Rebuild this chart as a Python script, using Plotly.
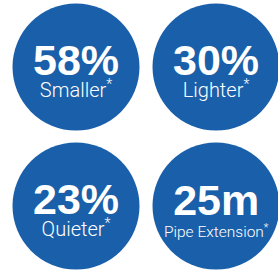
import plotly.graph_objects as go

values = [58, 30, 23, 25]
units = ["%", "%", "%", "m"]
labels = ["Smaller", "Lighter", "Quieter", "Pipe Extension"]
cols = [0, 1, 0, 1]
rows = [0, 0, 1, 1]

BLUE = "#1a5fa9"

fig = go.Figure()
fig.add_trace(go.Scatter(
    x=cols, y=rows, mode="markers",
    marker=dict(size=127, color=BLUE, line=dict(width=0)),
    hoverinfo="skip", showlegend=False,
))

for v, u, lab, c, r in zip(values, units, labels, cols, rows):
    fs = 15.5 if len(lab) > 10 else 20
    text = (
        f"<span style='font-family:Liberation Sans,Arial,sans-serif;font-weight:bold;font-size:43px'>{v}{u}</span>"
        f"<br><span style='font-family:Roboto,Liberation Sans,sans-serif;font-weight:300;font-size:{fs}px'>{lab}<sup>*</sup></span>"
    )
    fig.add_annotation(
        x=c, y=r, xref="x", yref="y", showarrow=False,
        text=text,
        font=dict(family="Liberation Sans, Arial, sans-serif", size=17, color="white"),
        xanchor="center", yanchor="middle", yshift=-2,
    )

fig.update_xaxes(range=[-76 / 140, (278 - 76) / 140], visible=False, fixedrange=True)
fig.update_yaxes(range=[(271 - 67) / 139, -67 / 139], visible=False, fixedrange=True)
fig.update_layout(
    width=278, height=271,
    margin=dict(l=0, r=0, t=0, b=0),
    paper_bgcolor="white", plot_bgcolor="white",
)
fig.write_html(
    "out.html",
    config={"displayModeBar": False},
    post_script="document.body.style.margin='0';document.body.style.overflow='hidden';",
)
